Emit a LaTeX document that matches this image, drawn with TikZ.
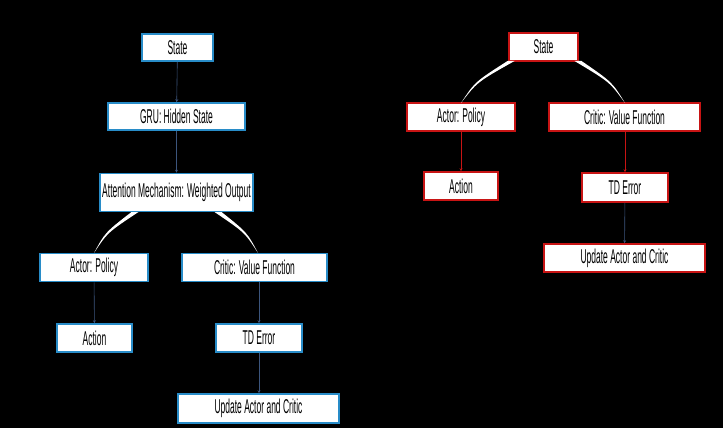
\documentclass[tikz,border=0pt]{standalone}
\usepackage{fontspec}
\setmainfont{Liberation Sans}[FakeStretch=0.425]
\usetikzlibrary{arrows.meta}
\definecolor{bblue}{RGB}{40,140,200}
\definecolor{rred}{RGB}{200,20,20}
\definecolor{lnk}{RGB}{60,85,125}
\tikzset{
  box/.style={draw, fill=white, line width=1.6pt, inner sep=0pt, font=\fontsize{20}{20}\selectfont, text=black},
  lbox/.style={box, draw=bblue},
  rbox/.style={box, draw=rred},
  conn/.style={draw=lnk, line width=0.6pt, -{Stealth[length=3pt,width=3pt]}},
  rconn/.style={draw=rred, line width=1pt, -{Stealth[length=3pt,width=3pt]}},
}
\newcommand{\wedgeshape}[4]{% px py cx cy
  \pgfmathsetmacro{\qx}{#3+0.3*(#1-#3)}
  \pgfmathsetmacro{\qy}{#2+0.5*(#4-#2)}
  \fill[white] (#1-3.5,#2) .. controls (\qx-1.2,\qy) .. (#3,#4) .. controls (\qx+1.2,\qy) .. (#1+3.5,#2) -- cycle;
}
\begin{document}
\begin{tikzpicture}[x=1pt,y=-1pt]
\fill[black] (0,0) rectangle (723,428);
\useasboundingbox (0,0) rectangle (723,428);
% left
\node[lbox, minimum width=71pt, minimum height=27pt] (lS) at (177.5,47.5) {State};
\node[lbox, minimum width=137pt, minimum height=27pt] (lG) at (176.5,116.5) {GRU: Hidden State};
\node[lbox, minimum width=153pt, minimum height=38pt] (lA) at (176.5,192.5) {Attention Mechanism: Weighted Output};
\node[lbox, minimum width=108pt, minimum height=28pt] (lAc) at (94,267.5) {Actor: Policy};
\node[lbox, minimum width=145pt, minimum height=28pt] (lC) at (254.5,267.5) {Critic: Value Function};
\node[lbox, minimum width=75pt, minimum height=28pt] (lAn) at (94.5,338) {Action};
\node[lbox, minimum width=86pt, minimum height=28pt] (lT) at (259,338) {TD Error};
\node[lbox, minimum width=161pt, minimum height=29pt] (lU) at (258.5,408.5) {Update Actor and Critic};
\draw[conn] (lS) -- (lG);
\draw[conn] (lG) -- (lA);
\draw[conn] (lAc) -- (lAn);
\draw[conn] (lC.south -| lT.north) -- (lT);
\draw[conn] (lT.south -| lT.north) -- (lU.north -| lT.north);
\wedgeshape{135}{212}{94}{253}
\wedgeshape{218}{212}{258}{253}
% right
\node[rbox, minimum width=69pt, minimum height=28pt] (rS) at (543.5,47) {State};
\node[rbox, minimum width=108pt, minimum height=28pt] (rAc) at (461,117) {Actor: Policy};
\node[rbox, minimum width=151pt, minimum height=28pt] (rC) at (624.5,117) {Critic: Value Function};
\node[rbox, minimum width=74pt, minimum height=28pt] (rAn) at (461,186) {Action};
\node[rbox, minimum width=86pt, minimum height=29pt] (rT) at (625,187.5) {TD Error};
\node[rbox, minimum width=161pt, minimum height=28pt] (rU) at (624.5,258) {Update Actor and Critic};
\draw[rconn] (rAc) -- (rAn);
\draw[rconn] (rC.south -| rT.north) -- (rT);
\draw[conn] (rT) -- (rU);
\wedgeshape{511}{61}{461}{103}
\wedgeshape{578}{61}{625}{103}
\end{tikzpicture}
\end{document}
